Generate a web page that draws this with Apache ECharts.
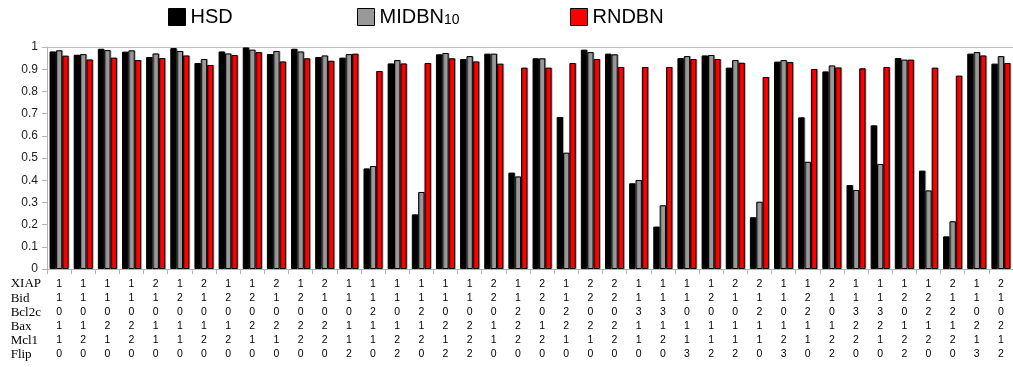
<!DOCTYPE html>
<html>
<head>
<meta charset="utf-8">
<script src="https://cdn.jsdelivr.net/npm/echarts@6/dist/echarts.min.js"></script>
<style>
html,body{margin:0;padding:0;background:#fff;}
#c{width:1013px;height:367px;}
</style>
</head>
<body>
<div id="c"></div>
<script>
// Row labels of the configuration table under the axis
const rowNames = ['XIAP', 'Bid', 'Bcl2c', 'Bax', 'Mcl1', 'Flip'];
// Each category: XIAP, Bid, Bcl2c, Bax, Mcl1, Flip
const xiap  = [1,1,1,1,2,1,2,1,1,2,1,2, 1,1,1,1,1,1,2,1,2,1,2,2,1,1, 1,1,2,2,1,1,2,1,1,1,1,2,1,2];
const bid   = [1,1,1,1,1,2,1,2,2,1,2,1, 1,1,1,1,1,1,2,1,2,1,2,2,1,1, 1,2,1,1,1,2,1,1,1,2,2,1,1,1];
const bcl2c = [0,0,0,0,0,0,0,0,0,0,0,0, 0,2,0,2,0,0,0,2,0,2,0,0,3,3, 0,0,0,2,0,2,0,3,3,0,2,2,0,0];
const bax   = [1,1,2,2,1,1,1,1,2,2,2,2, 1,1,1,1,2,2,1,2,1,2,2,2,1,1, 1,1,1,1,1,1,1,2,2,1,1,1,2,2];
const mcl1  = [1,2,1,2,1,1,2,2,1,1,2,2, 1,1,2,2,1,2,1,2,2,1,1,2,1,2, 1,1,1,1,2,1,2,2,1,2,2,2,1,1];
const flip  = [0,0,0,0,0,0,0,0,0,0,0,0, 2,0,2,0,2,2,0,0,0,0,0,0,0,0, 3,2,2,0,3,0,2,0,0,2,0,0,3,2];

const hsd = [0.980,0.965,0.992,0.979,0.955,0.995,0.928,0.980,0.998,0.968,0.992,0.955,
             0.952,0.453,0.926,0.246,0.967,0.946,0.970,0.434,0.949,0.685,0.988,0.970,0.386,0.191,
             0.950,0.962,0.907,0.233,0.934,0.683,0.890,0.378,0.647,0.950,0.443,0.147,0.970,0.925];
const midbn10 = [0.985,0.968,0.986,0.985,0.971,0.982,0.946,0.971,0.988,0.982,0.980,0.962,
             0.968,0.464,0.941,0.347,0.973,0.959,0.970,0.417,0.949,0.524,0.977,0.967,0.401,0.287,
             0.959,0.964,0.941,0.303,0.941,0.483,0.917,0.356,0.473,0.943,0.354,0.215,0.977,0.959];
const rndbn = [0.961,0.944,0.952,0.941,0.950,0.962,0.919,0.964,0.977,0.935,0.949,0.938,
             0.970,0.892,0.926,0.928,0.949,0.935,0.925,0.907,0.907,0.928,0.946,0.910,0.910,0.910,
             0.946,0.946,0.929,0.865,0.932,0.901,0.908,0.904,0.910,0.943,0.907,0.871,0.962,0.928];

const yTicks = [0,0.1,0.2,0.3,0.4,0.5,0.6,0.7,0.8,0.9,1];

const categories = xiap.map((v,i) => [v, bid[i], bcl2c[i], bax[i], mcl1[i], flip[i]].join('\n'));

const chart = echarts.init(document.getElementById('c'));
const border = {borderColor:'#000', borderWidth:1, borderRadius:0, shadowColor:'rgba(0,0,0,0.25)', shadowOffsetX:1, shadowBlur:0};
const legendText = {fontFamily:'Liberation Sans', fontSize:20, color:'#000',
  rich:{a:{fontFamily:'Liberation Sans', fontSize:20, color:'#000'}, b:{fontFamily:'Liberation Sans', fontSize:14, color:'#000', padding:[6,0,0,0]}}};
const legendBase = {top:7, padding:0, itemWidth:17, itemHeight:17, icon:'rect', textStyle:legendText,
  itemStyle:{borderColor:'#000', borderWidth:1, borderRadius:0, shadowColor:'transparent'}};
chart.setOption({
  animation:false,
  legend:[
    Object.assign({data:['HSD'], left:168}, legendBase),
    Object.assign({data:['MIDBN10'], left:357, formatter:() => '{a|MIDBN}{b|10}'}, legendBase),
    Object.assign({data:['RNDBN'], left:570}, legendBase)
  ],
  grid:{left:47, right:0, top:47, bottom:98},
  xAxis:[
    {type:'category', data:categories, position:'bottom',
     axisLine:{lineStyle:{color:'#b3b3b3'}},
     axisTick:{show:true, length:5, lineStyle:{color:'#b3b3b3'}},
     axisLabel:{interval:0, margin:8, fontFamily:'Liberation Sans', fontSize:10.5, lineHeight:14.1, color:'#000'}},
    {type:'category', data:categories, position:'top',
     axisLine:{show:true, lineStyle:{color:'#c0c0c0'}}, axisTick:{show:false}, axisLabel:{show:false}}
  ],
  yAxis:{type:'value', min:0, max:1, interval:0.1,
    axisLine:{show:true, lineStyle:{color:'#b3b3b3'}},
    axisTick:{show:true, length:5, lineStyle:{color:'#b3b3b3'}},
    splitLine:{show:false},
    axisLabel:{margin:9, fontFamily:'Liberation Sans', fontSize:12, color:'#222',
      formatter:v => { const t = yTicks.find(x => Math.abs(x - v) < 1e-9); return String(+t.toFixed(1)); }}},
  series:[
    {name:'HSD', type:'bar', data:hsd, barGap:'0%', barCategoryGap:'21%', itemStyle:Object.assign({color:'#000000'}, border)},
    {name:'MIDBN10', type:'bar', data:midbn10, barGap:'0%', barCategoryGap:'21%', itemStyle:Object.assign({color:'#999999'}, border)},
    {name:'RNDBN', type:'bar', data:rndbn, barGap:'0%', barCategoryGap:'21%', itemStyle:Object.assign({color:'#ff0000'}, border)}
  ],
  graphic:[{type:'text', right:1013-41, top:277,
    style:{text:rowNames.join('\n'), font:'13px "Liberation Serif"', lineHeight:14.1, fill:'#000', align:'right'}}]
});
</script>
</body>
</html>
